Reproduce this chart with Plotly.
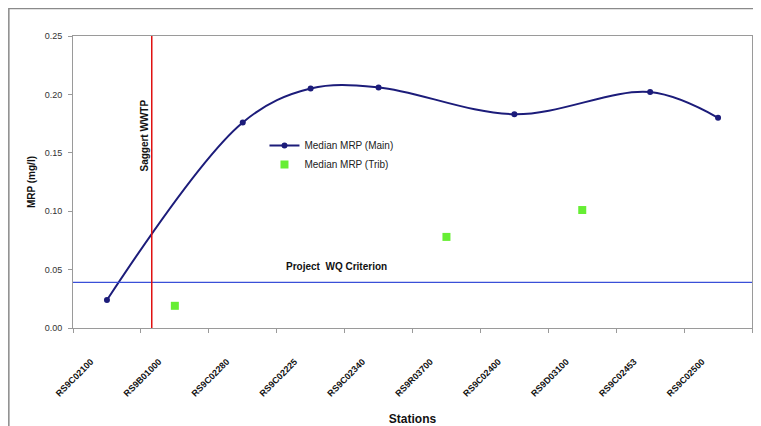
import plotly.graph_objects as go

# ---- data ----
stations = ["RS9C02100", "RS9B01000", "RS9C02280", "RS9C02225", "RS9C02340",
            "RS9R03700", "RS9C02400", "RS9D03100", "RS9C02453", "RS9C02500"]
mrp_main = [0.024, None, 0.176, 0.205, 0.206, None, 0.183, None, 0.202, 0.180]
mrp_trib = [None, 0.019, None, None, None, 0.078, None, 0.101, None, None]
criterion = 0.039          # Project WQ Criterion (mg/l)
wwtp_position = 0.66       # station-axis position of the Saggert WWTP
y_ticks = [0.00, 0.05, 0.10, 0.15, 0.20, 0.25]

idx = list(range(len(stations)))
main_x = [i for i, v in zip(idx, mrp_main) if v is not None]
main_y = [v for v in mrp_main if v is not None]
trib_x = [i for i, v in zip(idx, mrp_trib) if v is not None]
trib_y = [v for v in mrp_trib if v is not None]

FONT = "Liberation Sans, Arial, sans-serif"

fig = go.Figure()
fig.add_trace(go.Scatter(
    x=main_x, y=main_y, name="Median MRP (Main)", mode="lines+markers",
    line=dict(color="#1c1c7a", width=2, shape="spline", smoothing=1.0),
    marker=dict(symbol="circle", size=6, color="#1c1c7a"),
))
fig.add_trace(go.Scatter(
    x=trib_x, y=trib_y, name="Median MRP (Trib)", mode="markers",
    marker=dict(symbol="square", size=8, color="#66ee33"),
))

# criterion line and WWTP line
fig.add_shape(type="line", xref="paper", yref="y", x0=0, x1=1,
              y0=criterion, y1=criterion, line=dict(color="#3a4fd8", width=1.2))
fig.add_shape(type="line", xref="x", yref="y", x0=wwtp_position, x1=wwtp_position,
              y0=y_ticks[0], y1=y_ticks[-1], line=dict(color="#e01010", width=1.5))
# outer chart frame (only left and top edges fall inside the picture)
fig.add_shape(type="path", xref="paper", yref="paper",
              path="M -0.0945,-0.4 L -0.0945,1.094 L 1.2,1.094",
              line=dict(color="#8a8a8a", width=1.5), layer="below")

fig.add_annotation(text="<b>Saggert WWTP</b>", x=wwtp_position, y=0.165,
                   xref="x", yref="y", textangle=-90, showarrow=False,
                   xanchor="right", xshift=0, font=dict(family=FONT, size=10, color="#111"))
fig.add_annotation(text="<b>Project  WQ Criterion</b>", x=3.38, y=criterion,
                   xref="x", yref="y", yanchor="bottom", yshift=8, showarrow=False,
                   font=dict(family=FONT, size=10, color="#111"))

fig.update_layout(
    width=753, height=418,
    margin=dict(l=65, r=9, t=28, b=98, autoexpand=False),
    paper_bgcolor="white", plot_bgcolor="white",
    font=dict(family=FONT, size=10, color="#222"),
    showlegend=True,
    legend=dict(x=0.282, y=0.675, xanchor="left", yanchor="top",
                bgcolor="rgba(0,0,0,0)", font=dict(size=10, color="#222"),
                itemwidth=30, tracegroupgap=0),
    xaxis=dict(
        range=[-0.5, len(stations) - 0.5], automargin=False,
        tickmode="array", tickvals=idx, ticktext=stations, tickangle=-45,
        ticks="", showgrid=False, zeroline=False,
        showline=True, linecolor="#9a9a9a", linewidth=1, mirror=True,
        tickfont=dict(size=9, color="#111", weight="bold"),
        ticklabelshift=-16, ticklabelstandoff=24,
        minor=dict(ticks="outside", tick0=-0.5, dtick=1, ticklen=4,
                   tickcolor="#9a9a9a", showgrid=False),
        title=dict(text="<b>Stations</b>", font=dict(size=12, color="#111"), standoff=17),
    ),
    yaxis=dict(
        range=[y_ticks[0], y_ticks[-1]], automargin=False,
        tickmode="array", tickvals=y_ticks, tickformat=".2f",
        ticks="outside", ticklen=4, tickcolor="#9a9a9a",
        showgrid=False, zeroline=False,
        showline=True, linecolor="#9a9a9a", linewidth=1, mirror=True,
        tickfont=dict(size=9, color="#333"), ticklabelstandoff=4,
        title=dict(text="<b>MRP (mg/l)</b>", font=dict(size=10, color="#111"), standoff=7),
    ),
)

fig.write_html("out.html")
